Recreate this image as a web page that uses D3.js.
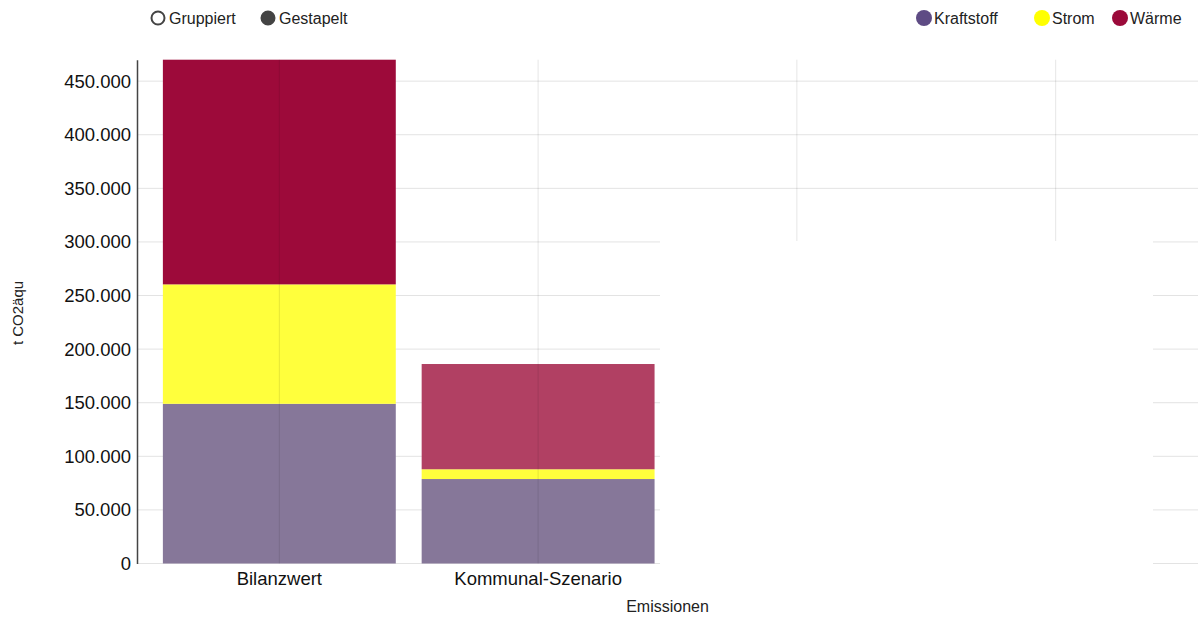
<!DOCTYPE html>
<html>
<head>
<meta charset="utf-8">
<script src="https://cdn.jsdelivr.net/npm/d3@7"></script>
<style>
  body { margin: 0; background: #fff; font-family: "Liberation Sans", Arial, sans-serif; }
  .grid line { stroke: #e3e3e3; }
  .vgrid line { stroke: rgba(0,0,0,0.10); }
</style>
</head>
<body>
<div class="chart"></div>
<script>
var svgWidth = 1198;
var svgHeight = 617;

// data
var categories = ["Bilanzwert", "Kommunal-Szenario", "cat3", "cat4"];
var categoryLabels = ["Bilanzwert", "Kommunal-Szenario", "", ""];
var seriesNames = ["Kraftstoff", "Strom", "Wärme"];
var kraftstoff = [149000, 78800, 0, 0];
var strom = [111400, 9100, 0, 0];
var waerme = [209600, 98200, 0, 0];
var yTicks = [0, 50000, 100000, 150000, 200000, 250000, 300000, 350000, 400000, 450000];

var legendColors = { "Kraftstoff": "#5e4b84", "Strom": "#ffff00", "Wärme": "#9b0a3a" };
// bar fills (first bar of Wärme is shown fully opaque, the rest faded)
var barColors = {
  "Kraftstoff": ["#867799", "#867799", "#867799", "#867799"],
  "Strom": ["#ffff3c", "#ffff3c", "#ffff3c", "#ffff3c"],
  "Wärme": ["#9d0a3a", "#b14063", "#b14063", "#b14063"]
};

var margin = { top: 60, right: 0, bottom: 53.5, left: 137 };

var svg = d3.select(".chart")
  .append("svg")
  .attr("width", svgWidth)
  .attr("height", svgHeight);

var de = d3.formatLocale({ decimal: ",", thousands: ".", grouping: [3], currency: ["", " €"] });
var fmt = de.format(",");

var x = d3.scaleBand()
  .domain(categories)
  .range([margin.left, svgWidth])
  .paddingInner(0.1)
  .paddingOuter(0.1);

var y = d3.scaleLinear()
  .domain([0, 470000])
  .range([svgHeight - margin.bottom, margin.top - 0.3]);

// stacked rows
var rows = categories.map(function(c, i) {
  return { cat: c, "Kraftstoff": kraftstoff[i], "Strom": strom[i], "Wärme": waerme[i], idx: i };
});
var stacked = d3.stack().keys(seriesNames)(rows);

// horizontal grid
svg.append("g")
  .attr("class", "grid")
  .selectAll("line")
  .data(yTicks)
  .enter()
  .append("line")
  .attr("x1", margin.left)
  .attr("x2", svgWidth)
  .attr("y1", d => y(d))
  .attr("y2", d => y(d));

// bars
svg.append("g")
  .selectAll("g")
  .data(stacked)
  .enter()
  .append("g")
  .selectAll("rect")
  .data(d => d.map(function(p) { p.key = d.key; return p; }))
  .enter()
  .append("rect")
  .attr("x", d => x(d.data.cat))
  .attr("width", x.bandwidth())
  .attr("y", d => y(d[1]))
  .attr("height", d => y(d[0]) - y(d[1]))
  .attr("fill", d => barColors[d.key][d.data.idx]);

// vertical grid through band centres (drawn over the bars, faint)
svg.append("g")
  .attr("class", "vgrid")
  .selectAll("line")
  .data(categories)
  .enter()
  .append("line")
  .attr("x1", d => x(d) + x.bandwidth() / 2)
  .attr("x2", d => x(d) + x.bandwidth() / 2)
  .attr("y1", y(470000))
  .attr("y2", y(0));

// y axis
var leftAxis = d3.axisLeft(y).tickValues(yTicks).tickFormat(fmt).tickSize(0).tickPadding(6);
var yAxis = svg.append("g")
  .attr("transform", `translate(${margin.left}, 0)`)
  .call(leftAxis);
yAxis.select(".domain").attr("stroke", "#444").attr("stroke-width", 1.5);
yAxis.selectAll("text").attr("font-size", 18.5).attr("fill", "#111")
  .attr("font-family", "Liberation Sans, Arial, sans-serif");

// x axis labels
var bottomAxis = d3.axisBottom(x).tickSize(0).tickPadding(8)
  .tickFormat((d, i) => categoryLabels[i]);
var xAxis = svg.append("g")
  .attr("transform", `translate(0, ${y(0)})`)
  .call(bottomAxis);
xAxis.select(".domain").remove();
xAxis.selectAll("text").attr("font-size", 18.5).attr("fill", "#111")
  .attr("font-family", "Liberation Sans, Arial, sans-serif");

// white panel covering the lower right part
svg.append("rect")
  .attr("x", 660)
  .attr("y", 241)
  .attr("width", 493)
  .attr("height", 347)
  .attr("fill", "#fff");

// axis titles
svg.append("text")
  .attr("transform", "rotate(-90)")
  .attr("x", -313)
  .attr("y", 23)
  .attr("text-anchor", "middle")
  .attr("font-size", 15)
  .attr("fill", "#222")
  .text("t CO2äqu");

svg.append("text")
  .attr("x", 667.5)
  .attr("y", 612)
  .attr("text-anchor", "middle")
  .attr("font-size", 16)
  .attr("fill", "#222")
  .text("Emissionen");

// mode switch
var modes = [
  { label: "Gruppiert", cx: 158, filled: false },
  { label: "Gestapelt", cx: 268, filled: true }
];
var modeG = svg.append("g");
modes.forEach(function(m) {
  modeG.append("circle")
    .attr("cx", m.cx)
    .attr("cy", 18)
    .attr("r", 6.5)
    .attr("fill", m.filled ? "#444" : "#fff")
    .attr("stroke", "#444")
    .attr("stroke-width", 2);
  modeG.append("text")
    .attr("x", m.cx + 11)
    .attr("y", 24)
    .attr("font-size", 16)
    .attr("fill", "#222")
    .text(m.label);
});

// legend
var legendX = [924, 1042, 1120];
var legend = svg.append("g");
seriesNames.forEach(function(s, i) {
  legend.append("circle")
    .attr("cx", legendX[i])
    .attr("cy", 18)
    .attr("r", 8)
    .attr("fill", legendColors[s]);
  legend.append("text")
    .attr("x", legendX[i] + 10)
    .attr("y", 24)
    .attr("font-size", 16)
    .attr("fill", "#222")
    .text(s);
});
</script>
</body>
</html>
